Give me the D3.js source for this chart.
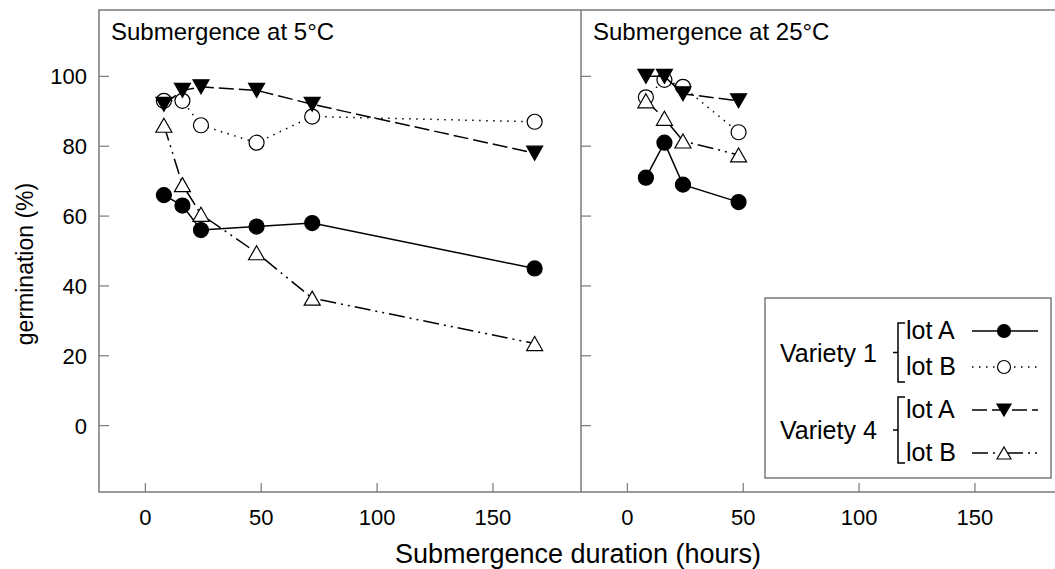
<!DOCTYPE html>
<html>
<head>
<meta charset="utf-8">
<script src="https://cdn.jsdelivr.net/npm/d3@7"></script>
<style>
  body { margin: 0; background: #fff; }
  svg { display: block; font-family: "Liberation Sans", Arial, sans-serif; }
</style>
</head>
<body>
<svg id="chart"></svg>
<script>
// Data
const hours5 = [8, 16, 24, 48, 72, 168];
const v1LotA5 = [66, 63, 56, 57, 58, 45];
const v1LotB5 = [93, 93, 86, 81, 88.5, 87];
const v4LotA5 = [92, 96, 97, 96, 92, 78];
const v4LotB5 = [86, 69, 60.5, 49.5, 36.5, 23.5];

const hours25 = [8, 16, 24, 48];
const v1LotA25 = [71, 81, 69, 64];
const v1LotB25 = [94, 99, 97, 84];
const v4LotA25 = [100, 100, 95, 93];
const v4LotB25 = [93, 88, 81.5, 77.5];

const panelTitles = ["Submergence at 5°C", "Submergence at 25°C"];
const xTicks = [0, 50, 100, 150];
const yTicks = [0, 20, 40, 60, 80, 100];
const varieties = ["Variety 1", "Variety 4"];
const lots = ["lot A", "lot B"];

// Layout
const W = 1055, H = 569;
const plotTop = 10, plotBottom = 492;
const panelW = 482;
const panelX = [99, 581];
const frameColor = "#7a7a7a";

const svg = d3.select("#chart").attr("width", W).attr("height", H);

const y = d3.scaleLinear().domain([-19, 119]).range([plotBottom, plotTop]);

// series styles
const styles = [
  { marker: "circle", fill: "#000", dash: null },
  { marker: "circle", fill: "#fff", dash: "1.5,5.5" },
  { marker: "down", fill: "#000", dash: "15,5" },
  { marker: "up", fill: "#fff", dash: "16,5,2,5,2,5" }
];

const panels = [
  { hours: hours5, series: [v1LotA5, v1LotB5, v4LotA5, v4LotB5] },
  { hours: hours25, series: [v1LotA25, v1LotB25, v4LotA25, v4LotB25] }
];

function markerPath(type, w, h) {
  if (type === "up") return `M0,${-h / 2}L${w / 2},${h / 2}L${-w / 2},${h / 2}Z`;
  return `M0,${h / 2}L${w / 2},${-h / 2}L${-w / 2},${-h / 2}Z`;
}

function drawMarker(g, st, cx, cy, big) {
  if (st.marker === "circle") {
    g.append("circle")
      .attr("cx", cx).attr("cy", cy).attr("r", big ? 7.5 : 6.5)
      .attr("fill", st.fill).attr("stroke", "#000").attr("stroke-width", 1.2);
  } else {
    g.append("path")
      .attr("d", markerPath(st.marker, big ? 16 : 14, big ? 14 : 12))
      .attr("transform", `translate(${cx},${cy})`)
      .attr("fill", st.fill).attr("stroke", "#000").attr("stroke-width", 1.2);
  }
}

// Outer frame
svg.append("rect")
  .attr("x", panelX[0]).attr("y", plotTop)
  .attr("width", panelW * 2).attr("height", plotBottom - plotTop)
  .attr("fill", "none").attr("stroke", frameColor).attr("stroke-width", 1.5);

// divider
svg.append("line")
  .attr("x1", panelX[1]).attr("x2", panelX[1])
  .attr("y1", plotTop).attr("y2", plotBottom)
  .attr("stroke", frameColor).attr("stroke-width", 1.5);

panels.forEach((p, pi) => {
  const x = d3.scaleLinear().domain([-20, 188]).range([panelX[pi], panelX[pi] + panelW]);
  const g = svg.append("g");

  // x ticks (inward) and labels
  const xAxis = g.append("g");
  xTicks.forEach(t => {
    xAxis.append("line")
      .attr("x1", x(t)).attr("x2", x(t))
      .attr("y1", plotBottom).attr("y2", plotBottom - 9)
      .attr("stroke", frameColor).attr("stroke-width", 1.2);
    xAxis.append("text")
      .attr("x", x(t)).attr("y", 525)
      .attr("text-anchor", "middle")
      .attr("font-size", 22)
      .text(t);
  });

  // y ticks (inward)
  yTicks.forEach(t => {
    g.append("line")
      .attr("x1", panelX[pi]).attr("x2", panelX[pi] + 10)
      .attr("y1", y(t)).attr("y2", y(t))
      .attr("stroke", frameColor).attr("stroke-width", 1.2);
  });

  // panel title
  g.append("text")
    .attr("x", panelX[pi] + 12).attr("y", 40)
    .attr("font-size", 24)
    .text(panelTitles[pi]);

  const line = d3.line().x(d => x(d[0])).y(d => y(d[1]));

  p.series.forEach((vals, si) => {
    const st = styles[si];
    const pts = p.hours.map((h, i) => [h, vals[i]]);
    g.append("path")
      .attr("d", line(pts))
      .attr("fill", "none")
      .attr("stroke", "#000")
      .attr("stroke-width", 1.5)
      .attr("stroke-dasharray", st.dash);
    pts.forEach(d => drawMarker(g, st, x(d[0]), y(d[1]), true));
  });
});

// y tick labels (left panel only)
yTicks.forEach(t => {
  svg.append("text")
    .attr("x", 87).attr("y", y(t) + 8)
    .attr("text-anchor", "end")
    .attr("font-size", 22)
    .text(t);
});

// axis titles
svg.append("text")
  .attr("transform", "translate(33,264) rotate(-90)")
  .attr("text-anchor", "middle")
  .attr("font-size", 23)
  .text("germination (%)");

svg.append("text")
  .attr("x", 578).attr("y", 563)
  .attr("text-anchor", "middle")
  .attr("font-size", 27)
  .text("Submergence duration (hours)");

// Legend
const leg = svg.append("g");
leg.append("rect")
  .attr("x", 765).attr("y", 298)
  .attr("width", 286).attr("height", 180)
  .attr("fill", "#fff").attr("stroke", frameColor).attr("stroke-width", 1.5);

const rowY = [331, 367, 410, 453];
const groupY = [[323, 382], [397, 463]];

varieties.forEach((v, vi) => {
  const [y0, y1] = groupY[vi];
  const mid = (y0 + y1) / 2;
  leg.append("text")
    .attr("x", 780).attr("y", mid + 9)
    .attr("font-size", 25)
    .text(v);
  leg.append("path")
    .attr("d", `M905,${y0}H898V${y1}H905M898,${mid}H893`)
    .attr("fill", "none").attr("stroke", "#000").attr("stroke-width", 1.5);
  lots.forEach((l, li) => {
    const si = vi * 2 + li;
    const ry = rowY[si];
    leg.append("text")
      .attr("x", 906).attr("y", ry + 8)
      .attr("font-size", 25)
      .text(l);
    leg.append("line")
      .attr("x1", 972).attr("x2", 1038)
      .attr("y1", ry).attr("y2", ry)
      .attr("stroke", "#000").attr("stroke-width", 1.5)
      .attr("stroke-dasharray", styles[si].dash);
    drawMarker(leg, styles[si], 1004, ry, false);
  });
});
</script>
</body>
</html>
